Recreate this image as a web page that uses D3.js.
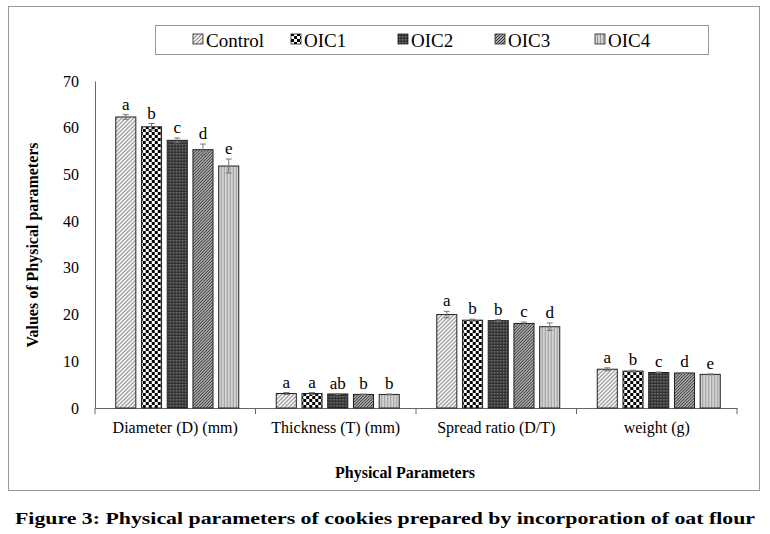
<!DOCTYPE html><html><head><meta charset="utf-8"><script src="https://cdn.jsdelivr.net/npm/d3@7"></script>
<style>body{margin:0;background:#fff}text{font-family:"Liberation Serif","Times New Roman",serif}</style></head><body>
<svg id="c" width="770" height="534"></svg>
<script>
const categories=["Diameter (D) (mm)","Thickness (T) (mm)","Spread ratio (D/T)","weight (g)"];
const series=["Control","OIC1","OIC2","OIC3","OIC4"];
const values=[[62.3,60.2,57.3,55.3,51.8],[3.1,3.1,3.0,2.9,2.9],[20.0,18.8,18.7,18.1,17.4],[8.3,7.9,7.6,7.5,7.2]];
const errors=[[0.5,0.7,0.5,1.2,1.5],[0.2,0.2,0.1,0.1,0.1],[0.7,0.2,0.2,0.3,0.8],[0.3,0.2,0.1,0.1,0.1]];
const letters=[["a","b","c","d","e"],["a","a","ab","b","b"],["a","b","b","c","d"],["a","b","c","d","e"]];
const yTicks=[0,10,20,30,40,50,60,70];
const svg=d3.select("#c");
const defs=svg.append("defs");
function pat(id,w,h,bg,draw){const p=defs.append("pattern").attr("id",id).attr("patternUnits","userSpaceOnUse").attr("width",w).attr("height",h);p.append("rect").attr("width",w).attr("height",h).attr("fill",bg);draw(p);}
pat("p0",4,4,"#fff",p=>p.append("path").attr("d","M-1,1L1,-1M0,4L4,0M3,5L5,3").attr("stroke","#888").attr("stroke-width",1.2));
pat("p1",6,6,"#fff",p=>{p.append("rect").attr("width",3).attr("height",3).attr("fill","#000");p.append("rect").attr("x",3).attr("y",3).attr("width",3).attr("height",3).attr("fill","#000");});
pat("p2",3,3,"#333",p=>p.append("rect").attr("width",1.5).attr("height",1.5).attr("fill","#777"));
pat("p3",3,3,"#aaa",p=>p.append("path").attr("d","M-1,1L1,-1M0,3L3,0M2,4L4,2").attr("stroke","#333").attr("stroke-width",1));
pat("p4",3,3,"#d4d4d4",p=>p.append("rect").attr("width",1).attr("height",3).attr("fill","#999"));
svg.append("rect").attr("x",8.5).attr("y",6.5).attr("width",751).attr("height",484).attr("fill","none").attr("stroke","#999");
const x=d3.scaleBand().domain(categories).range([95,737]);
const xs=d3.scaleBand().domain(series).range([0,123]).paddingInner(0.22);
const y=d3.scaleLinear().domain([0,70]).range([408,81]);
const ya=svg.append("g").attr("transform","translate(95,0)").call(d3.axisLeft(y).tickValues(yTicks).tickSize(0).tickPadding(16));
ya.select(".domain").attr("stroke","#666");ya.selectAll("text").attr("font-size",16).attr("font-family","Liberation Serif").attr("fill","#000");
const xa=svg.append("g").attr("transform","translate(0,408)").call(d3.axisBottom(x).tickSize(0).tickPadding(14));
xa.select(".domain").attr("stroke","#666");xa.selectAll("text").attr("font-size",16).attr("font-family","Liberation Serif").attr("fill","#000");
svg.append("g").selectAll("line").data(d3.range(5)).join("line").attr("x1",i=>95+i*160.5).attr("x2",i=>95+i*160.5).attr("y1",408).attr("y2",414).attr("stroke","#666");
categories.forEach((c,ci)=>{
  const g=svg.append("g").attr("transform",`translate(${x(c)+x.bandwidth()/2-61.5+2},0)`);
  series.forEach((s,si)=>{
    const v=values[ci][si],e=errors[ci][si],bx=xs(s),bw=xs.bandwidth();
    g.append("rect").attr("x",bx).attr("y",y(v)).attr("width",bw).attr("height",408-y(v)).attr("fill",`url(#p${si})`).attr("stroke","#222").attr("stroke-width",1);
    const cx=bx+bw/2;
    g.append("path").attr("d",`M${cx},${y(v+e)}V${y(v-e)}M${cx-3},${y(v+e)}H${cx+3}M${cx-3},${y(v-e)}H${cx+3}`).attr("stroke","#777").attr("stroke-width",1);
    g.append("text").attr("x",cx).attr("y",y(v+e)-5).attr("text-anchor","middle").attr("font-size",17).text(letters[ci][si]);
  });
});
svg.append("text").attr("transform","translate(38,245) rotate(-90)").attr("text-anchor","middle").attr("font-size",16).attr("font-weight","bold").text("Values of Physical parameters");
svg.append("text").attr("x",405).attr("y",478).attr("text-anchor","middle").attr("font-size",16).attr("font-weight","bold").text("Physical Parameters");
svg.append("rect").attr("x",155.5).attr("y",25.5).attr("width",553).attr("height",29).attr("fill","#fff").attr("stroke","#999");
const lx=[193,291,398,495,595];
series.forEach((s,i)=>{
  svg.append("rect").attr("x",lx[i]).attr("y",34).attr("width",10).attr("height",10).attr("fill",`url(#p${i})`).attr("stroke","#222").attr("stroke-width",0.8);
  svg.append("text").attr("x",lx[i]+13).attr("y",47).attr("font-size",19).text(s);
});
svg.append("text").attr("x",385).attr("y",524).attr("text-anchor","middle").attr("font-size",17).attr("font-weight","bold").attr("font-family","DejaVu Serif").attr("textLength",740).attr("lengthAdjust","spacingAndGlyphs").text("Figure 3: Physical parameters of cookies prepared by incorporation of oat flour");
</script></body></html>
